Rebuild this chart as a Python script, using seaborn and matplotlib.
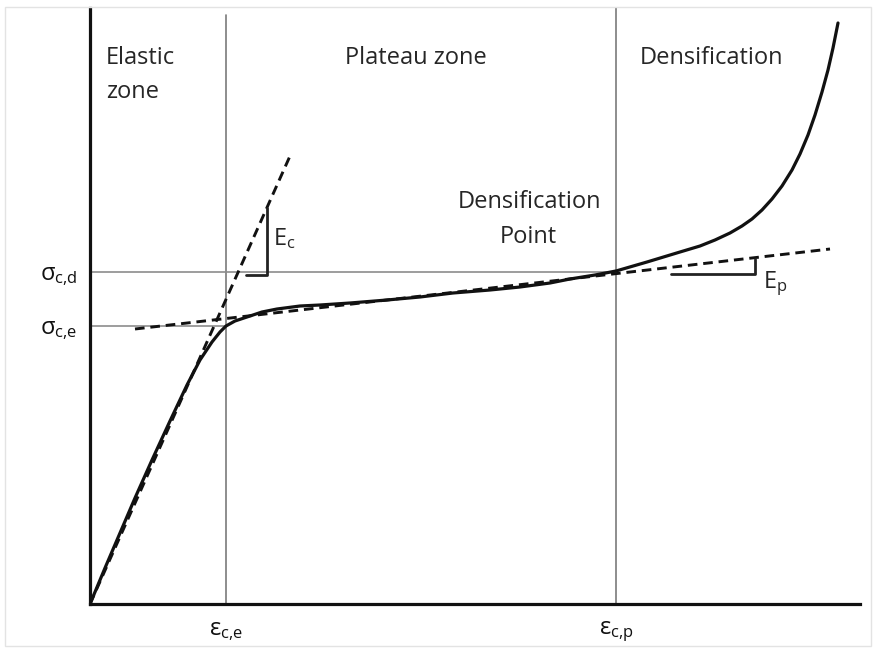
import matplotlib
matplotlib.use("Agg")
import matplotlib.pyplot as plt
import seaborn as sns
import pandas as pd
from matplotlib.patches import Rectangle

# stress-strain curve (arbitrary units)
strain = [0, 15, 30, 45, 62, 80, 97, 110, 122, 130, 136, 145, 157, 172, 187, 210,
          230, 260, 297, 330, 363, 400, 430, 460, 480, 505, 526, 557, 590, 610,
          625, 640, 652, 662, 672, 682, 692, 702, 710, 718, 725, 732, 738, 743, 748]
stress = [0, 36, 71, 106, 144, 183, 219, 244, 262, 272, 278, 283, 287, 292, 295, 298,
          299, 301, 304, 307, 311, 314, 317, 321, 325, 329, 333, 342, 352, 358,
          364, 371, 378, 385, 394, 405, 418, 434, 450, 469, 489, 512, 534, 556, 581]

elastic_fit_strain = [0, 200]
elastic_fit_stress = [0, 448]
plateau_fit_strain = [45, 740]
plateau_fit_stress = [275, 355]

eps_ce, eps_cp = 136, 526
sig_ce, sig_cd = 278, 332

ec_tri_strain = [156, 177, 177]
ec_tri_stress = [329, 329, 396]
ep_tri_strain = [581, 665, 665]
ep_tri_stress = [330, 330, 345]

xtick_labels = [r"$\mathrm{ε}_{c{,}e}$", r"$\mathrm{ε}_{c{,}p}$"]
ytick_labels = [r"$\mathrm{σ}_{c{,}e}$", r"$\mathrm{σ}_{c{,}d}$"]

sns.set_theme(style="white")
plt.rcParams["font.family"] = ["Open Sans", "DejaVu Sans"]
plt.rcParams["mathtext.fontset"] = "custom"
plt.rcParams["mathtext.rm"] = "Open Sans"
plt.rcParams["mathtext.it"] = "Open Sans"
plt.rcParams["mathtext.bf"] = "Open Sans:bold"

fig = plt.figure(figsize=(8.75, 6.48), dpi=100)
ax = fig.add_axes([90 / 875, 1 - 604 / 648, 770 / 875, 596 / 648])

curve = pd.DataFrame({"strain": strain, "stress": stress})
dash = (0, (3.3, 2.0))

# guide lines
ax.plot([eps_ce, eps_ce], [0, 589], color="#7a7a7a", lw=1.2, zorder=1)
ax.plot([eps_cp, eps_cp], [0, 596], color="#7a7a7a", lw=1.2, zorder=1)
ax.plot([0, eps_cp], [sig_cd, sig_cd], color="#8c8c8c", lw=1.2, zorder=1)
ax.plot([0, eps_ce], [sig_ce, sig_ce], color="#8c8c8c", lw=1.2, zorder=1)

sns.lineplot(data=curve, x="strain", y="stress", ax=ax, color="#111111",
             linewidth=2.3, sort=False, estimator=None, zorder=3,
             solid_joinstyle="round", solid_capstyle="round")
sns.lineplot(x=elastic_fit_strain, y=elastic_fit_stress, ax=ax, color="#111111",
             linewidth=2.1, linestyle=dash, sort=False, estimator=None, zorder=2)
sns.lineplot(x=plateau_fit_strain, y=plateau_fit_stress, ax=ax, color="#111111",
             linewidth=2.1, linestyle=dash, sort=False, estimator=None, zorder=2)
sns.lineplot(x=ec_tri_strain, y=ec_tri_stress, ax=ax, color="#222222",
             linewidth=2.0, sort=False, estimator=None, zorder=2)
sns.lineplot(x=ep_tri_strain, y=ep_tri_stress, ax=ax, color="#222222",
             linewidth=2.0, sort=False, estimator=None, zorder=2)

fs = 17
ax.text(16, 540, "Elastic", fontsize=fs, va="baseline", ha="left")
ax.text(16, 506, "zone", fontsize=fs, va="baseline", ha="left")
ax.text(326, 540, "Plateau zone", fontsize=fs, va="baseline", ha="center")
ax.text(550, 540, "Densification", fontsize=fs, va="baseline", ha="left")
ax.text(439, 396, "Densification", fontsize=fs, va="baseline", ha="center")
ax.text(438, 361, "Point", fontsize=fs, va="baseline", ha="center")
ax.text(183, 359, r"$\mathrm{E}_c$", fontsize=fs, va="baseline", ha="left")
ax.text(673, 316, r"$\mathrm{E}_p$", fontsize=fs, va="baseline", ha="left")

ax.set_xlim(0, 770)
ax.set_ylim(0, 596)
ax.set_xticks([eps_ce, eps_cp])
ax.set_xticklabels(xtick_labels)
ax.set_yticks([sig_ce, sig_cd])
ax.set_yticklabels(ytick_labels)
ax.tick_params(axis="both", length=0, labelsize=fs, colors="#111111")
ax.tick_params(axis="x", pad=11)
ax.tick_params(axis="y", pad=9)
ax.set_xlabel("")
ax.set_ylabel("")
sns.despine(ax=ax)
for side in ["left", "bottom"]:
    ax.spines[side].set_color("#111111")
    ax.spines[side].set_linewidth(2.3)
    ax.spines[side].set_capstyle("projecting")

fig.add_artist(Rectangle((5 / 875, 1 - 646 / 648), 866 / 875, 639 / 648,
                         transform=fig.transFigure, fill=False,
                         edgecolor="#e3e3e3", linewidth=1.0))

fig.savefig("out.png", dpi=100)
